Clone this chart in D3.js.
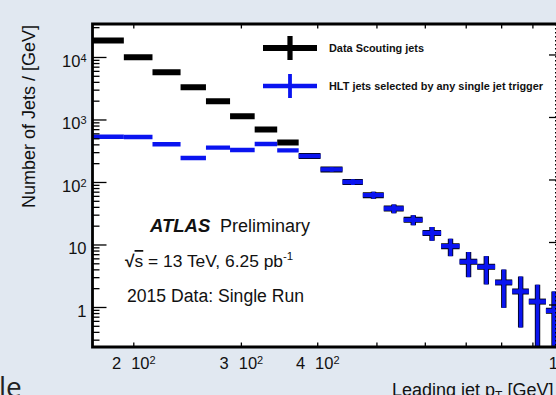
<!DOCTYPE html>
<html lang="en">
<head>
<meta charset="utf-8">
<title>Leading jet pT - Data Scouting vs HLT</title>
<script src="https://d3js.org/d3.v7.min.js"></script>
<style>
  body {
    margin: 0;
    background: #e1e8f1;
  }
  svg {
    display: block;
    font-family: "Liberation Sans", Arial, Helvetica, sans-serif;
  }
  .axis path { display: none; }
  .axis line { stroke: #000; stroke-width: 1.3; }
  .axis text { font-size: 16.5px; fill: #111; }
</style>
</head>
<body>
<div id="chart"></div>
<script>

// leading jet pT bin edges [GeV]
var binEdges = [171, 193, 215, 239, 263, 288, 316, 344, 373, 405, 440, 475, 514, 554,
                595, 638, 684, 731, 782, 834, 888, 947, 1006];

// Number of jets / GeV, Data Scouting jets
var scoutingJets = [18300, 9900, 5680, 3270, 1950, 1130, 690, 427, 261, 159, 99.8, 61.6,
                    37.7, 24.8, 15.3, 9.4, 5.3, 4.4, 2.47, 1.77, 1.22, 0.87];
var scoutingErr  = [100, 60, 45, 30, 25, 18, 14, 12, 18, 13.5, 10.7, 7.9,
                    6.1, 4.5, 3.8, 2.9, 2.3, 2.1, 1.5, 1.3, 1.05, 0.9];

// HLT jets selected by any single jet trigger
var hltJets = [530, 525, 402, 242, 355, 325, 405, 321, 261, 159, 99.8, 61.6,
               37.7, 24.8, 15.3, 9.4, 5.3, 4.4, 2.47, 1.77, 1.22, 0.87];
var hltErr  = [8, 8, 7, 6, 7, 7, 8, 8, 18, 13.5, 10.7, 7.9,
               6.1, 4.5, 3.8, 2.9, 2.3, 2.1, 1.5, 1.3, 1.05, 0.9];

var seriesNames = ["Data Scouting jets", "HLT jets selected by any single jet trigger"];
var seriesColors = ["#000000", "#0a14f0"];

// axis ticks
var xTickValues = [200, 300, 400, 500, 600, 700, 800, 900, 1000];
var xLabelValues = [200, 300, 400, 1000];
var xLabelMant = ["2", "3", "4", ""];
var xLabelExp = ["2", "2", "2", "3"];
var yMajorValues = [1, 10, 100, 1000, 10000];
var yLabelBase = ["1", "10", "10", "10", "10"];
var yLabelExp = ["", "", "2", "3", "4"];

var W = 556, H = 395;
var frameLeft = 92.5, frameTop = 24, frameBottom = 347;
var pxPerDecade = 611;

var svg = d3.select("#chart").append("svg")
    .attr("width", W)
    .attr("height", H);

var x = d3.scaleLog()
    .domain([171.5, 1200])
    .range([frameLeft, frameLeft + pxPerDecade * Math.log10(1200 / 171.5)]);

var y = d3.scaleLog()
    .domain([0.229, 33700])
    .range([frameBottom, frameTop]);

// white frame
svg.append("rect")
  .attr("x", frameLeft).attr("y", frameTop)
  .attr("width", W - frameLeft).attr("height", frameBottom - frameTop)
  .attr("fill", "#fff");

svg.append("clipPath").attr("id", "frame")
  .append("rect")
  .attr("x", frameLeft).attr("y", frameTop)
  .attr("width", W - frameLeft + 80).attr("height", frameBottom - frameTop);

function drawSeries(values, errs, color, w) {
  var g = svg.append("g").attr("clip-path", "url(#frame)");
  values.forEach(function(v, i) {
    var lo = binEdges[i], hi = binEdges[i + 1];
    var c = (lo + hi) / 2;
    var yLo = v - errs[i] > y.domain()[0] ? y(v - errs[i]) : frameBottom + 5;
    g.append("line")
      .attr("x1", x(lo)).attr("x2", x(hi))
      .attr("y1", y(v)).attr("y2", y(v))
      .attr("stroke", color).attr("stroke-width", w);
    g.append("line")
      .attr("x1", x(c)).attr("x2", x(c))
      .attr("y1", yLo).attr("y2", y(v + errs[i]))
      .attr("stroke", color).attr("stroke-width", w - 0.6);
  });
}

drawSeries(scoutingJets, scoutingErr, seriesColors[0], 6);
drawSeries(hltJets, hltErr, seriesColors[1], 4.4);

// y axis: major and minor ticks, pointing inward
var yMinor = y.ticks().filter(function(d) { return yMajorValues.indexOf(d) < 0; });

svg.append("g").attr("class", "axis")
  .attr("transform", "translate(" + frameLeft + ",0)")
  .call(d3.axisLeft(y).tickValues(yMinor).tickSizeInner(-7).tickSizeOuter(0).tickFormat(""));

var yAxis = svg.append("g").attr("class", "axis")
  .attr("transform", "translate(" + frameLeft + ",0)")
  .call(d3.axisLeft(y).tickValues(yMajorValues).tickSizeInner(-14).tickSizeOuter(0)
    .tickPadding(6).tickFormat(""));

yAxis.selectAll(".tick text").each(function(d, i) {
  var t = d3.select(this).attr("dy", "0.55em").attr("x", -6);
  t.append("tspan").text(yLabelBase[i]);
  if (yLabelExp[i]) {
    t.append("tspan").attr("dy", "-0.45em").style("font-size", "11px").text(yLabelExp[i]);
  }
});

// x axis bottom and top
var xAxis = svg.append("g").attr("class", "axis")
  .attr("transform", "translate(0," + frameBottom + ")")
  .call(d3.axisBottom(x).tickValues(xTickValues).tickSizeInner(-4.5).tickSizeOuter(0)
    .tickPadding(10).tickFormat(""));

xAxis.selectAll(".tick text").each(function(d) {
  var k = xLabelValues.indexOf(d);
  if (k < 0) return;
  var t = d3.select(this).attr("dy", "0.71em");
  if (xLabelMant[k]) {
    t.append("tspan").text(xLabelMant[k]);
    t.append("tspan").attr("dx", 10).text("10");
  } else {
    t.append("tspan").text("10");
  }
  t.append("tspan").attr("dy", "-0.45em").style("font-size", "11px").text(xLabelExp[k]);
});

svg.append("g").attr("class", "axis")
  .attr("transform", "translate(0," + frameTop + ")")
  .call(d3.axisTop(x).tickValues(xTickValues).tickSizeInner(-4.5).tickSizeOuter(0).tickFormat(""));

// frame lines
svg.append("path")
  .attr("d", "M" + W + "," + frameTop + "H" + frameLeft + "V" + frameBottom + "H" + W)
  .attr("fill", "none").attr("stroke", "#000").attr("stroke-width", 2.8);

// axis titles
svg.append("text")
  .attr("transform", "translate(35," + (frameTop + 1) + ") rotate(-90)")
  .style("text-anchor", "end")
  .style("font-size", "18px")
  .attr("fill", "#111")
  .text("Number of Jets / [GeV]");

var xt = svg.append("text")
  .attr("x", 392).attr("y", 395.5)
  .style("font-size", "18px")
  .attr("fill", "#111");
xt.append("tspan").text("Leading jet p");
xt.append("tspan").attr("dy", 4).style("font-size", "12px").text("T");
xt.append("tspan").attr("dy", -4).text(" [GeV]");

// legend
function legendEntry(cy, i, w) {
  var cx = 290;
  svg.append("line")
    .attr("x1", cx - 27).attr("x2", cx + 27).attr("y1", cy).attr("y2", cy)
    .attr("stroke", seriesColors[i]).attr("stroke-width", w);
  svg.append("line")
    .attr("x1", cx).attr("x2", cx).attr("y1", cy - 12).attr("y2", cy + 12)
    .attr("stroke", seriesColors[i]).attr("stroke-width", w - 0.8);
  svg.append("text")
    .attr("x", 329).attr("y", cy + 3.7)
    .style("font-size", "10.9px").style("font-weight", "bold")
    .attr("fill", "#111")
    .text(seriesNames[i]);
}
legendEntry(48, 0, 6);
legendEntry(86, 1, 4.6);

// ATLAS label
svg.append("text").attr("x", 150).attr("y", 232)
  .style("font-size", "18.5px").style("font-weight", "bold").style("font-style", "italic")
  .attr("fill", "#111")
  .text("ATLAS");
svg.append("text").attr("x", 220).attr("y", 232)
  .style("font-size", "18px").attr("fill", "#111")
  .text("Preliminary");

var en = svg.append("text").attr("x", 125).attr("y", 267).style("font-size", "17.4px").attr("fill", "#111");
en.append("tspan").style("font-weight", "bold").text("\u221A");
en.append("tspan").style("text-decoration", "overline").text("s");
en.append("tspan").text(" = 13 TeV, 6.25 pb");
en.append("tspan").attr("dy", -7).style("font-size", "11.5px").text("-1");

svg.append("text").attr("x", 127).attr("y", 302)
  .style("font-size", "17.6px").attr("fill", "#111")
  .text("2015 Data: Single Run");

// edge of the neighbouring plot on the slide
svg.append("line")
  .attr("x1", 555.5).attr("x2", 555.5).attr("y1", frameTop).attr("y2", frameBottom)
  .attr("stroke", "#000").attr("stroke-width", 1).attr("stroke-dasharray", "1.5,2.5");
yMajorValues.forEach(function(d) {
  svg.append("line")
    .attr("x1", 549).attr("x2", 556).attr("y1", y(d) - 2).attr("y2", y(d) - 2)
    .attr("stroke", "#000").attr("stroke-width", 1.3);
});

// slide text underneath
svg.append("text")
  .attr("x", -1).attr("y", 397)
  .style("font-family", "'Open Sans', sans-serif")
  .style("font-size", "28px")
  .attr("fill", "#222")
  .text("le");

</script>
</body>
</html>
